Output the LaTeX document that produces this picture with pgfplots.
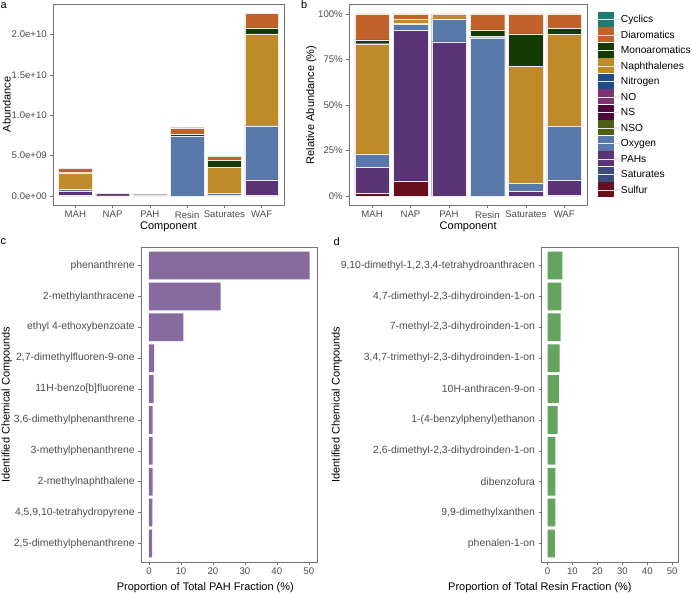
\documentclass[border=0pt]{standalone}
\usepackage{pgfplots}
\pgfplotsset{compat=1.18}
\usepackage{pgfplotstable}
\usepackage{fontspec}
\setmainfont{Liberation Sans}

\definecolor{cCyc}{HTML}{1E7B6E}
\definecolor{cDi}{HTML}{C0622A}
\definecolor{cMono}{HTML}{143A05}
\definecolor{cNaph}{HTML}{BF8A28}
\definecolor{cNit}{HTML}{224B8B}
\definecolor{cNO}{HTML}{7F3372}
\definecolor{cNS}{HTML}{480A3C}
\definecolor{cNSO}{HTML}{4B5E12}
\definecolor{cOxy}{HTML}{5878AA}
\definecolor{cPAH}{HTML}{5B3478}
\definecolor{cSat}{HTML}{3A4C7C}
\definecolor{cSul}{HTML}{680E1C}
\definecolor{cPurp}{HTML}{876A9E}
\definecolor{cGreen}{HTML}{64A45E}

% abundance in units of 1e9
\pgfplotstableread{
x Sul Sat PAH Oxy NSO NS NO Nit Naph Mono Di Cyc
1 0.051 0 0.479 0.255 0 0 0 0 2.060 0.068 0.486 0
2 0.029 0 0.289 0.012 0 0.001 0 0 0.009 0 0.009 0
3 0 0 0.144 0.022 0 0 0 0 0.005 0 0 0
4 0 0 0 7.352 0 0 0.042 0.042 0 0.270 0.744 0
5 0 0 0.119 0.218 0 0 0 0 3.198 0.871 0.545 0
6 0.068 0 1.921 6.712 0 0 0 0 11.368 0.746 1.785 0
}\abund

% relative abundance, percent
\pgfplotstableread{
x Sul Sat PAH Oxy NSO NS NO Nit Naph Mono Di Cyc
1 1.5 0 14.1 7.5 0 0 0 0 60.6 2.0 14.3 0
2 8.2 0 82.7 3.5 0 0.3 0 0 2.6 0 2.7 0
3 0 0 84.6 12.7 0 0 0 0 2.7 0 0 0
4 0 0 0 87.0 0 0 0.5 0.5 0 3.2 8.8 0
5 0 0 2.4 4.4 0 0 0 0 64.6 17.6 11.0 0
6 0.3 0 8.5 29.7 0 0 0 0 50.3 3.3 7.9 0
}\relab

\pgfplotsset{
  base/.style={
    scale only axis, anchor=south west,
    axis line style={black!55, line width=0.6pt},
    every tick/.style={black!55, line width=0.5pt},
    tick align=outside, major tick length=2.75pt,
    xtick pos=bottom, ytick pos=left,
    tick label style={font=\fontsize{9.6}{11}\selectfont, text=black!70},
    label style={font=\fontsize{11}{13}\selectfont, text=black},
    /pgf/number format/assume math mode=true,
  },
  stackbase/.style={
    base, ybar stacked, bar width=0.9,
    xmin=0.4, xmax=6.6, xtick={1,...,6},
    xticklabels={MAH,NAP,PAH,Resin,Saturates,WAF},
    every axis plot/.append style={draw=white!92!black, line width=0.25pt},
  },
  mylegimg/.style={
    legend image code/.code={
      \fill[##1, draw=none] (0pt,-7.5pt) rectangle (15.7pt,7.5pt);
      \path (0pt,0pt) -- (23pt,0pt);
    }
  },
}

\newcommand{\stackall}[1]{%
  \addplot[fill=cSul] table[x=x,y=Sul]{#1};
  \addplot[fill=cSat] table[x=x,y=Sat]{#1};
  \addplot[fill=cPAH] table[x=x,y=PAH]{#1};
  \addplot[fill=cOxy] table[x=x,y=Oxy]{#1};
  \addplot[fill=cNSO] table[x=x,y=NSO]{#1};
  \addplot[fill=cNS] table[x=x,y=NS]{#1};
  \addplot[fill=cNO] table[x=x,y=NO]{#1};
  \addplot[fill=cNit] table[x=x,y=Nit]{#1};
  \addplot[fill=cNaph] table[x=x,y=Naph]{#1};
  \addplot[fill=cMono] table[x=x,y=Mono]{#1};
  \addplot[fill=cDi] table[x=x,y=Di]{#1};
  \addplot[fill=cCyc] table[x=x,y=Cyc]{#1};
}

\begin{document}
\begin{tikzpicture}
\path[use as bounding box] (0,0) rectangle (692pt,592pt);

% ---------- panel a ----------
\begin{axis}[stackbase, at={(53pt,387pt)}, width=231pt, height=201pt,
  ymin=-1.13, ymax=23.78, ytick={0,5,10,15,20},
  yticklabels={0.0e+00,5.0e+09,1.0e+10,1.5e+10,2.0e+10},
  xlabel={Component}, ylabel={Abundance},
  xlabel style={at={(axis description cs:0.5,-0.108)}, anchor=center},
  ylabel style={at={(axis description cs:-0.201,0.5)}, anchor=center},
]
\stackall{\abund}
\end{axis}

% ---------- panel b ----------
\begin{axis}[stackbase, at={(349pt,387pt)}, width=238.3pt, height=200.3pt,
  ymin=-5, ymax=105.1, ytick={0,25,50,75,100},
  yticklabels={0\%,25\%,50\%,75\%,100\%},
  xlabel={Component}, ylabel={Relative Abundance (\%)},
  xlabel style={at={(axis description cs:0.5,-0.108)}, anchor=center},
  ylabel style={at={(axis description cs:-0.158,0.5)}, anchor=center},
  reverse legend,
  every axis plot post/.append style={mylegimg},
  legend style={at={(1.0437,0.965)}, anchor=north west, draw=none, fill=none,
    inner sep=0pt, outer sep=0pt, row sep=0.5pt,
    font=\fontsize{10.2}{11}\selectfont,
    nodes={inner sep=0pt, text depth=0pt},
    cells={anchor=west}},
]
\stackall{\relab}
\legend{Sulfur,Saturates,PAHs,Oxygen,NSO,NS,NO,Nitrogen,Naphthalenes,Monoaromatics,Diaromatics,Cyclics}
\end{axis}

% ---------- panel c ----------
\begin{axis}[base, at={(141pt,30pt)}, width=176.7pt, height=315pt,
  xbar, bar width=0.9,
  xmin=-2.5, xmax=52.8, xtick={0,10,20,30,40,50},
  ymin=0.4, ymax=10.6, ytick={1,...,10},
  yticklabels={{2,5-dimethylphenanthrene},{4,5,9,10-tetrahydropyrene},{2-methylnaphthalene},{3-methylphenanthrene},{3,6-dimethylphenanthrene},{11H-benzo[b]fluorene},{2,7-dimethylfluoren-9-one},{ethyl 4-ethoxybenzoate},{2-methylanthracene},{phenanthrene}},
  yticklabel style={font=\fontsize{10.4}{12}\selectfont},
  xlabel={Proportion of Total PAH Fraction (\%)},
  ylabel={Identified Chemical Compounds},
  xlabel style={at={(axis description cs:0.364,-0.082)}, anchor=center},
  ylabel style={at={(axis description cs:-0.76,0.5)}, anchor=center},
]
\addplot[fill=cPurp, draw=none] coordinates {
(1.0,1) (1.05,2) (1.1,3) (1.1,4) (1.15,5) (1.45,6) (1.6,7) (10.75,8) (22.4,9) (50.3,10)};
\end{axis}

% ---------- panel d ----------
\begin{axis}[base, at={(541.3pt,30pt)}, width=137.4pt, height=315pt,
  xbar, bar width=0.9,
  xmin=-2.5, xmax=52.6, xtick={0,10,20,30,40,50},
  ymin=0.4, ymax=10.6, ytick={1,...,10},
  yticklabels={{phenalen-1-on},{9,9-dimethylxanthen},{dibenzofura},{2,6-dimethyl-2,3-dihydroinden-1-on},{1-(4-benzylphenyl)ethanon},{10H-anthracen-9-on},{3,4,7-trimethyl-2,3-dihydroinden-1-on},{7-methyl-2,3-dihydroinden-1-on},{4,7-dimethyl-2,3-dihydroinden-1-on},{9,10-dimethyl-1,2,3,4-tetrahydroanthracen}},
  yticklabel style={font=\fontsize{10.4}{12}\selectfont},
  xlabel={Proportion of Total Resin Fraction (\%)},
  ylabel={Identified Chemical Compounds},
  xlabel style={at={(axis description cs:-0.01,-0.082)}, anchor=center},
  ylabel style={at={(axis description cs:-1.489,0.5)}, anchor=center},
]
\addplot[fill=cGreen, draw=none] coordinates {
(2.9,1) (3.1,2) (3.1,3) (3.1,4) (4.0,5) (4.5,6) (4.8,7) (5.2,8) (5.5,9) (5.9,10)};
\end{axis}

% panel letters
\node[anchor=base west, inner sep=0pt, font=\fontsize{11}{12}\selectfont] at (0.5pt,583pt) {a};
\node[anchor=base west, inner sep=0pt, font=\fontsize{11}{12}\selectfont] at (301pt,583pt) {b};
\node[anchor=base west, inner sep=0pt, font=\fontsize{11}{12}\selectfont] at (0.5pt,347pt) {c};
\node[anchor=base west, inner sep=0pt, font=\fontsize{11}{12}\selectfont] at (333.3pt,346pt) {d};
\end{tikzpicture}
\end{document}
